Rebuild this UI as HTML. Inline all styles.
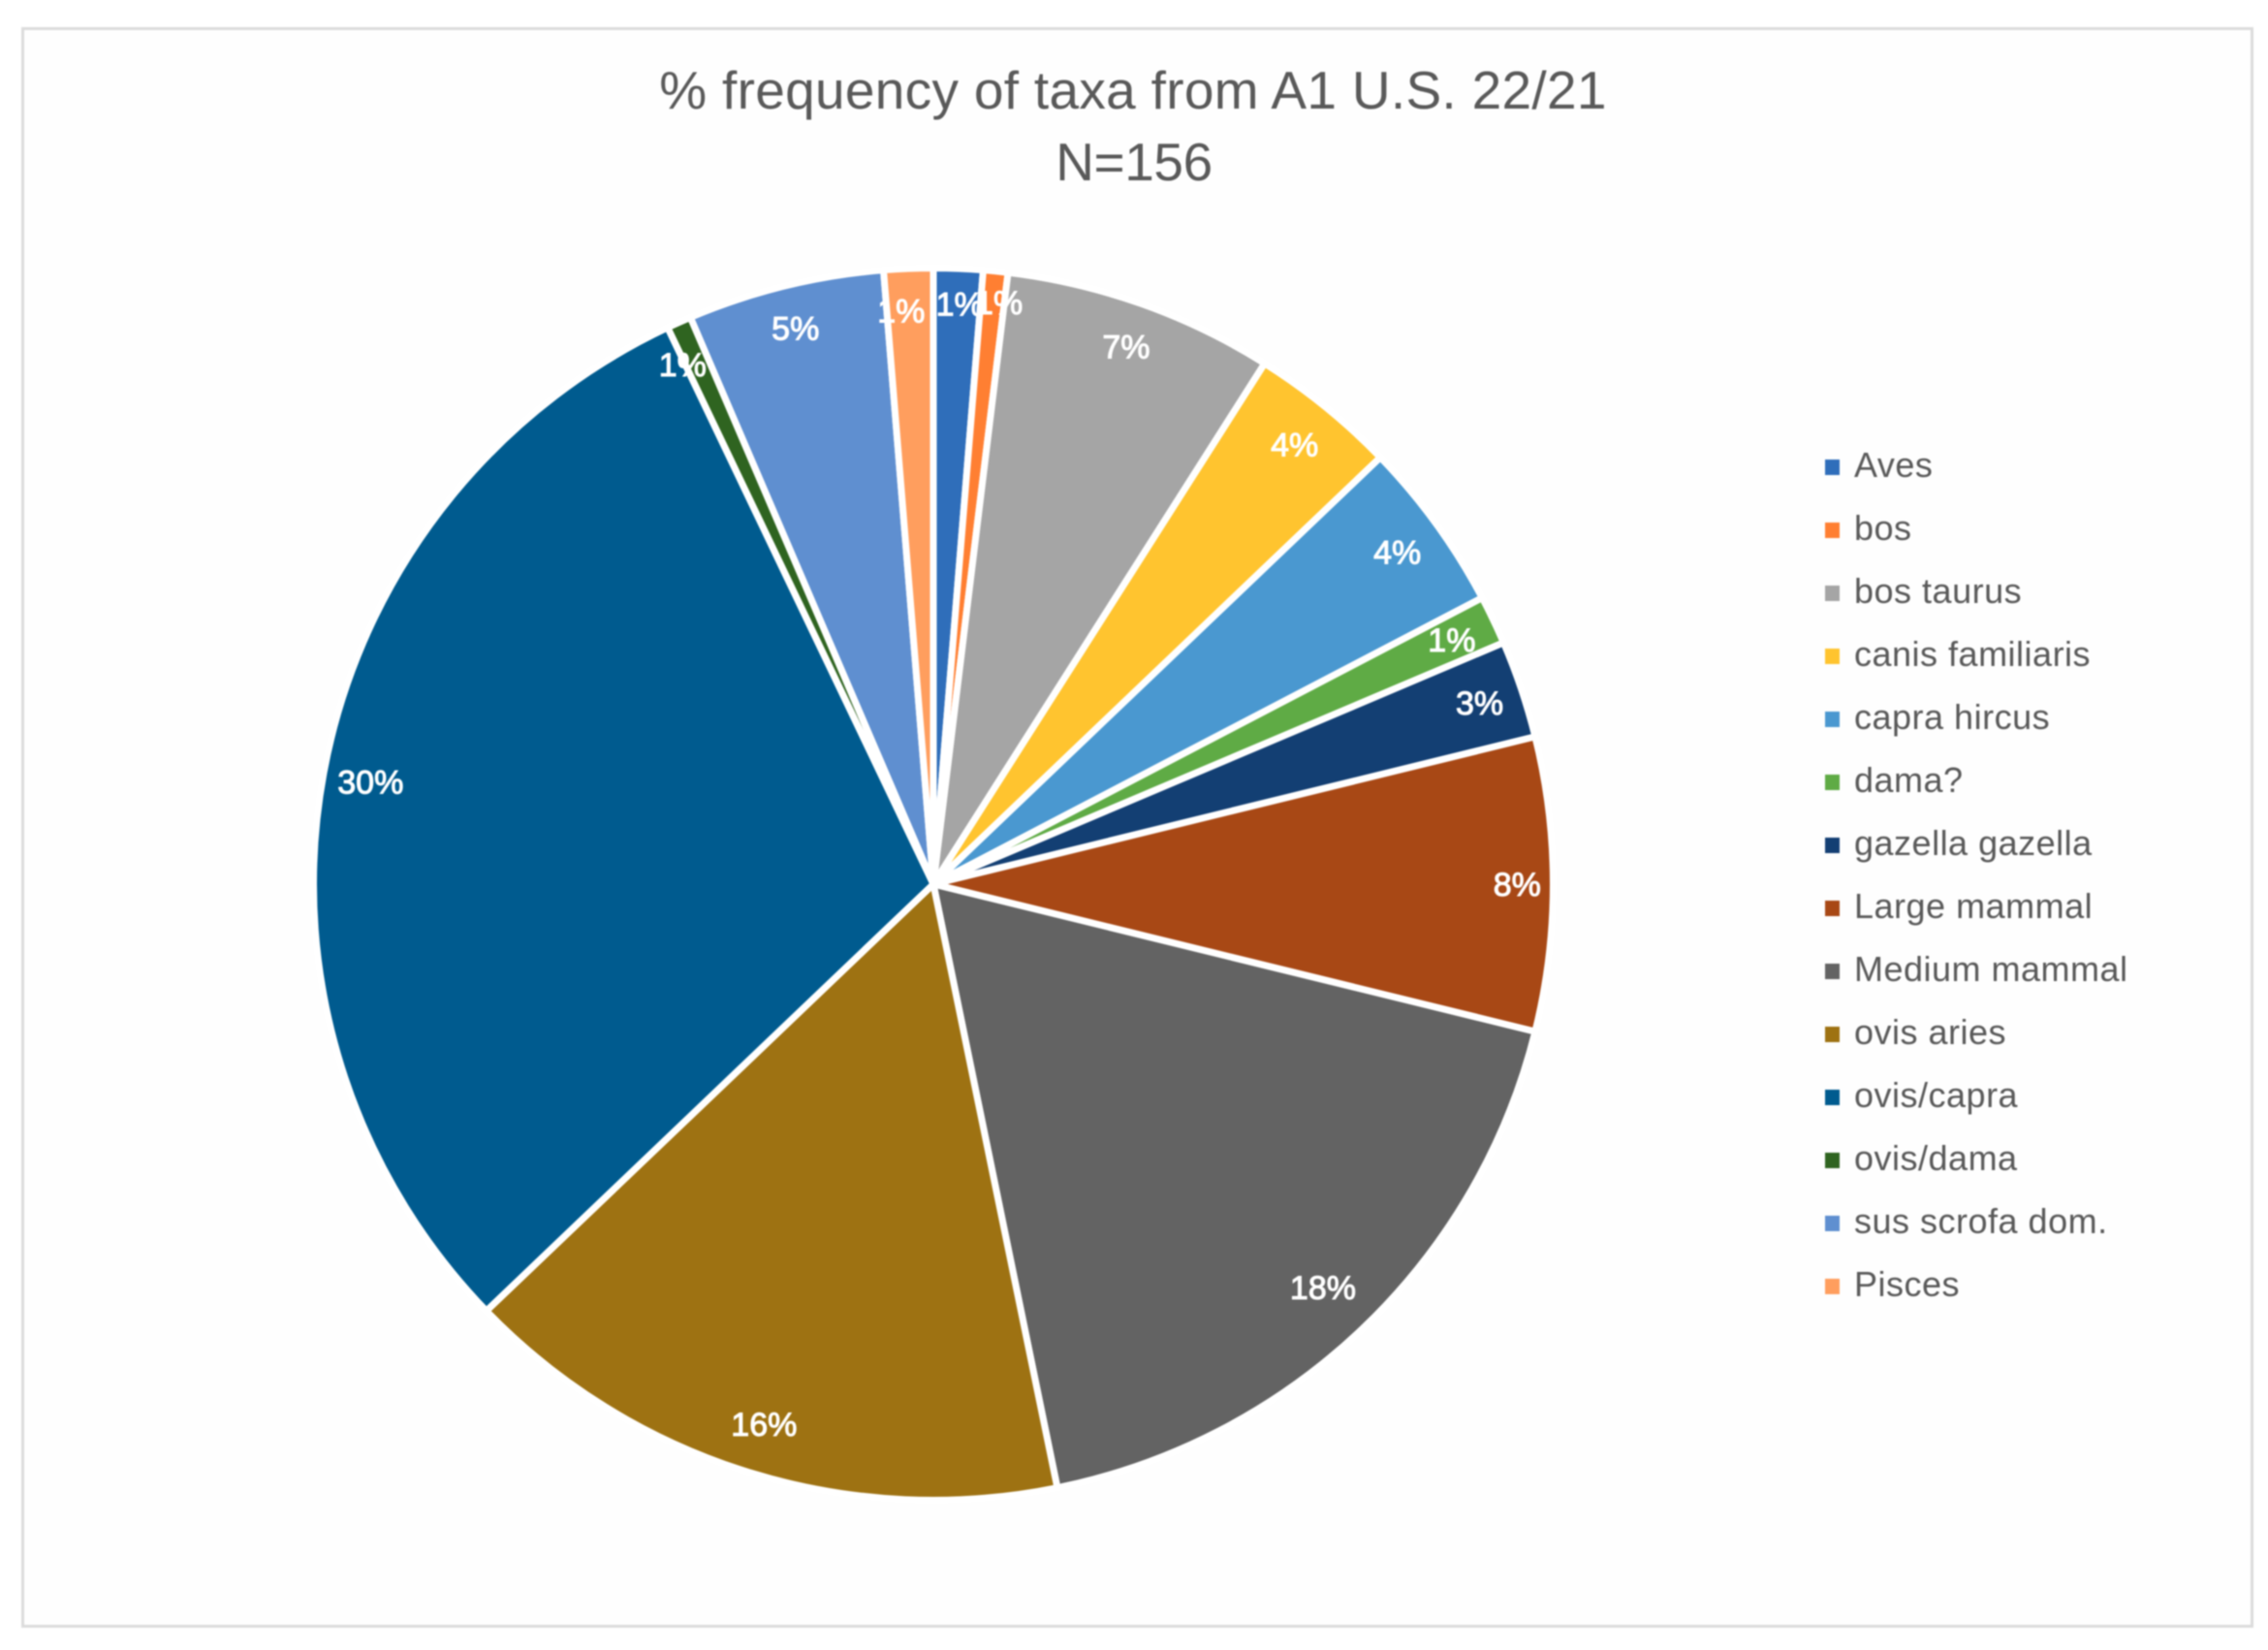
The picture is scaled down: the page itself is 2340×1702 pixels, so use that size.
<!DOCTYPE html>
<html lang="en">
<head>
<meta charset="utf-8">
<title>% frequency of taxa from A1 U.S. 22/21</title>
<style>
  html, body { margin: 0; padding: 0; background: #ffffff; }
  body { width: 2340px; height: 1702px; overflow: hidden; }
  svg { display: block; filter: blur(0.7px); font-family: "Liberation Sans", sans-serif; }
</style>
</head>
<body>
<svg id="chart" xmlns="http://www.w3.org/2000/svg" width="2340" height="1702" viewBox="0 0 2340 1702">
  <rect x="23.5" y="29.5" width="2300" height="1648" fill="#fefefe" stroke="#dcdcdc" stroke-width="3"/>
  <text x="1169" y="112" text-anchor="middle" font-size="55" letter-spacing="0.3" fill="#595959">% frequency of taxa from A1 U.S. 22/21</text>
  <text x="1170" y="186" text-anchor="middle" font-size="55" letter-spacing="-0.4" fill="#595959">N=156</text>
  <g id="slices"></g>
  <g id="labels"></g>
  <g id="legend"></g>
</svg>
<script>
const categories = ["Aves", "bos", "bos taurus", "canis familiaris", "capra hircus", "dama?", "gazella gazella", "Large mammal", "Medium mammal", "ovis aries", "ovis/capra", "ovis/dama", "sus scrofa dom.", "Pisces"];
const counts = [2, 1, 11, 6, 7, 2, 4, 12, 28, 25, 47, 1, 8, 2];
const palette = ["#2F6EBA", "#FF7F32", "#A5A5A5", "#FFC42F", "#4A98D0", "#5FAB45", "#133F73", "#A84815", "#636363", "#9E7212", "#005B8F", "#2F6420", "#5F8FD0", "#FF9E5E"];

const NS = "http://www.w3.org/2000/svg";
const cx = 963, cy = 912, rx = 639.5, ry = 635.5;
const total = counts.reduce(function (a, b) { return a + b; }, 0);

function angleOf(cum) { return cum / total * 2 * Math.PI; }
function px(a, r) { return cx + (r / ry) * rx * Math.sin(a); }
function py(a, r) { return cy - r * Math.cos(a); }

const slicesGroup = document.getElementById("slices");
const labelsGroup = document.getElementById("labels");
const legendGroup = document.getElementById("legend");

let cum = 0;
counts.forEach(function (v, i) {
  const a0 = angleOf(cum);
  const a1 = angleOf(cum + v);
  const mid = (a0 + a1) / 2;
  cum += v;

  const large = (a1 - a0) > Math.PI ? 1 : 0;
  const d = "M" + cx + " " + cy +
    " L" + px(a0, ry).toFixed(2) + " " + py(a0, ry).toFixed(2) +
    " A" + rx + " " + ry + " 0 " + large + " 1 " + px(a1, ry).toFixed(2) + " " + py(a1, ry).toFixed(2) + " Z";
  const slug = categories[i].toLowerCase().replace(/[^a-z]+/g, "-").replace(/-+$/, "");

  const path = document.createElementNS(NS, "path");
  path.setAttribute("d", d);
  path.setAttribute("fill", palette[i]);
  path.setAttribute("stroke", "#ffffff");
  path.setAttribute("stroke-width", "7");
  path.setAttribute("stroke-linejoin", "round");
  
  
  slicesGroup.appendChild(path);

  const labelText = Math.round(v / total * 100) + "%";
  const halfW = labelText.length > 2 ? 35 : 28;
  const halfH = 18;
  const sn = Math.sin(mid);
  const cs = Math.cos(mid);
  const s = Math.abs(sn);
  const c = Math.abs(cs);
  const bottomPad = cs < 0 ? 4 : 0;
  const r = ry - (9 + 12 * c + bottomPad) - s * halfW - c * halfH;
  let lx = px(mid, r);
  let ly = py(mid, r) + 12;
  if (v <= 2 && c > 0.99) {
    lx += sn * 75;
    ly -= sn * 90;
  }
  if (v <= 2 && sn < 0) {
    lx -= 26 - 10 * v;
  }
  const label = document.createElementNS(NS, "text");
  label.setAttribute("x", lx.toFixed(2));
  label.setAttribute("y", ly.toFixed(2));
  label.setAttribute("text-anchor", "middle");
  label.setAttribute("font-size", "34");
  label.setAttribute("fill", "#ffffff");
  label.setAttribute("stroke", "#ffffff");
  label.setAttribute("stroke-width", "1");
  
  
  label.textContent = labelText;
  labelsGroup.appendChild(label);

  const rowY = 482 + i * 65;
  const swatch = document.createElementNS(NS, "rect");
  swatch.setAttribute("x", "1883");
  swatch.setAttribute("y", String(rowY - 8));
  swatch.setAttribute("width", "15");
  swatch.setAttribute("height", "16");
  swatch.setAttribute("fill", palette[i]);
  
  
  legendGroup.appendChild(swatch);

  const entry = document.createElementNS(NS, "text");
  entry.setAttribute("x", "1913");
  entry.setAttribute("y", String(rowY + 10));
  entry.setAttribute("font-size", "36");
  entry.setAttribute("letter-spacing", "0.5");
  entry.setAttribute("fill", "#595959");
  
  
  entry.textContent = categories[i];
  legendGroup.appendChild(entry);
});
</script>
</body>
</html>
